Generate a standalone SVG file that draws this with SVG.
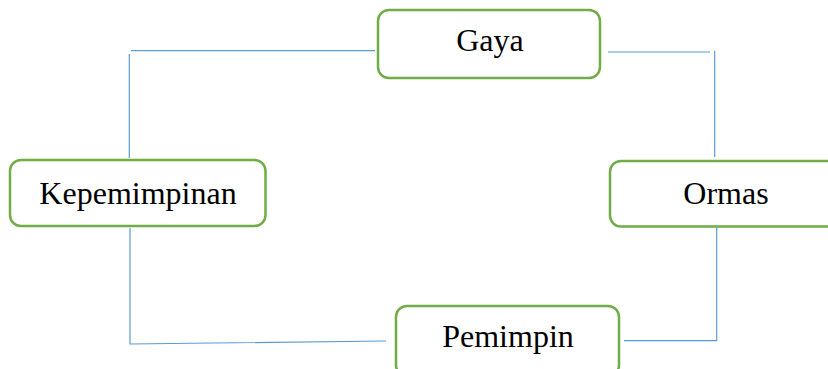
<svg xmlns="http://www.w3.org/2000/svg" width="828" height="369" viewBox="0 0 828 369">
<style>
.box{fill:#fff;stroke:#70ad47;stroke-width:2.5}
.lbl{font-family:"Liberation Serif","Times New Roman",serif;font-size:32px;fill:#000;text-anchor:middle}
.con{fill:none;stroke:#5b9bd5;stroke-width:1.2}
</style>
<rect width="828" height="369" fill="#fff"/>
<g id="connectors">
<path class="con" d="M131 50.7 H375"/>
<path class="con" d="M129.3 54 V158"/>
<path class="con" d="M130 228 V344 L386 341"/>
<path class="con" d="M608 52 H710"/>
<path class="con" d="M714.7 50.7 V157"/>
<path class="con" d="M716.7 227 V340.7 H624"/>
</g>
<g id="gaya">
<rect class="box" x="378" y="10" width="222" height="68" rx="11"/>
<text class="lbl" x="490" y="51">Gaya</text>
</g>
<g id="kepemimpinan">
<rect class="box" x="10" y="160" width="255.5" height="66" rx="11"/>
<text class="lbl" x="138" y="203.5">Kepemimpinan</text>
</g>
<g id="ormas">
<rect class="box" x="610" y="161" width="240" height="65.5" rx="11"/>
<text class="lbl" x="726" y="203.5">Ormas</text>
</g>
<g id="pemimpin">
<rect class="box" x="396" y="306" width="223" height="70" rx="11"/>
<text class="lbl" x="508" y="347">Pemimpin</text>
</g>
</svg>
